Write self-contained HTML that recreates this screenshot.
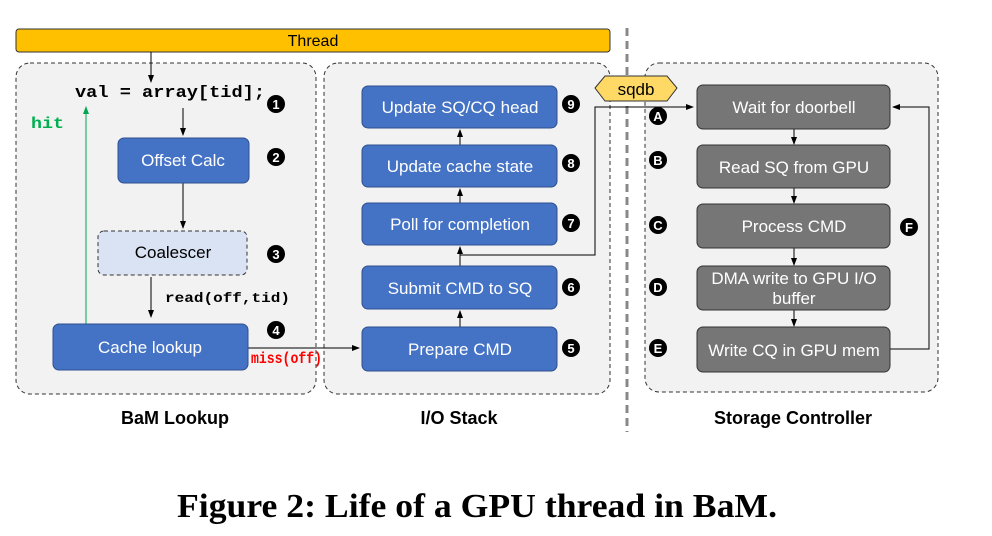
<!DOCTYPE html>
<html><head><style>
body{margin:0;background:#fff;width:992px;height:531px;overflow:hidden}
</style></head><body>
<svg width="992" height="531" xmlns="http://www.w3.org/2000/svg" font-family="Liberation Sans, Arial, sans-serif">
<defs><marker id="a" markerWidth="8" markerHeight="8" refX="7" refY="4" orient="auto" markerUnits="userSpaceOnUse"><path d="M0,1 L8,4 L0,7z" fill="#000"/></marker>
<marker id="g" markerWidth="8" markerHeight="8" refX="7" refY="4" orient="auto" markerUnits="userSpaceOnUse"><path d="M0,1 L8,4 L0,7z" fill="#00a651"/></marker></defs>
<rect x="16" y="29" width="594" height="23" rx="3" fill="#FFC000" stroke="#333"/>
<text x="313" y="46" text-anchor="middle" font-size="16">Thread</text>
<rect x="16" y="63" width="300" height="331" rx="14" fill="#f2f2f2" stroke="#333" stroke-dasharray="4,3"/>
<rect x="324" y="63" width="286" height="331" rx="14" fill="#f2f2f2" stroke="#333" stroke-dasharray="4,3"/>
<rect x="645" y="63" width="293" height="329" rx="14" fill="#f2f2f2" stroke="#333" stroke-dasharray="4,3"/>
<line x1="627" y1="28" x2="627" y2="432" stroke="#888" stroke-width="3" stroke-dasharray="8,5"/>
<g font-family="Liberation Mono, monospace" font-weight="bold">
<text x="75" y="97" font-size="17" textLength="190" lengthAdjust="spacingAndGlyphs">val = array[tid];</text>
<text x="31" y="128" font-size="16" fill="#00b050" textLength="33" lengthAdjust="spacingAndGlyphs">hit</text>
<text x="165" y="302" font-size="14" textLength="125" lengthAdjust="spacingAndGlyphs">read(off,tid)</text>
<text x="251" y="363" font-size="16" fill="#f00" textLength="71" lengthAdjust="spacingAndGlyphs">miss(off)</text>
</g>
<g stroke="#000" fill="none">
<line x1="151" y1="52" x2="151" y2="82" marker-end="url(#a)"/>
<line x1="183" y1="108" x2="183" y2="135" marker-end="url(#a)"/>
<line x1="183" y1="183" x2="183" y2="228" marker-end="url(#a)"/>
<line x1="151" y1="277" x2="151" y2="317" marker-end="url(#a)"/>
<line x1="248" y1="348" x2="359" y2="348" marker-end="url(#a)"/>
<line x1="460" y1="327" x2="460" y2="311" marker-end="url(#a)"/>
<line x1="460" y1="266" x2="460" y2="247" marker-end="url(#a)"/>
<line x1="460" y1="203" x2="460" y2="189" marker-end="url(#a)"/>
<line x1="460" y1="145" x2="460" y2="130" marker-end="url(#a)"/>
<polyline points="460,255 595,255 595,107 693,107" marker-end="url(#a)"/>
<line x1="794" y1="129" x2="794" y2="144" marker-end="url(#a)"/>
<line x1="794" y1="188" x2="794" y2="203" marker-end="url(#a)"/>
<line x1="794" y1="248" x2="794" y2="265" marker-end="url(#a)"/>
<line x1="794" y1="310" x2="794" y2="326" marker-end="url(#a)"/>
<polyline points="890,349 929,349 929,107 893,107" marker-end="url(#a)"/>
</g>
<line x1="86" y1="324" x2="86" y2="107" stroke="#00a651" marker-end="url(#g)"/>
<g stroke="#2f4f8f" fill="#4472C4">
<rect x="118" y="138" width="131" height="45" rx="6"/>
<rect x="53" y="324" width="195" height="46" rx="6"/>
<rect x="362" y="86" width="195" height="42" rx="6"/>
<rect x="362" y="145" width="195" height="42" rx="6"/>
<rect x="362" y="203" width="195" height="42" rx="6"/>
<rect x="362" y="266" width="195" height="43" rx="6"/>
<rect x="362" y="327" width="195" height="44" rx="6"/>
</g>
<rect x="98" y="231" width="149" height="44" rx="6" fill="#dae3f3" stroke="#333" stroke-dasharray="4,3"/>
<g stroke="#333" fill="#767676">
<rect x="697" y="85" width="193" height="44" rx="6"/>
<rect x="697" y="145" width="193" height="43" rx="6"/>
<rect x="697" y="204" width="193" height="44" rx="6"/>
<rect x="697" y="266" width="193" height="44" rx="6"/>
<rect x="697" y="327" width="193" height="45" rx="6"/>
</g>
<polygon points="595,88 605,76 667,76 677,88 667,101 605,101" fill="#FFD966" stroke="#333"/>
<text x="636" y="95" text-anchor="middle" font-size="17">sqdb</text>
<g fill="#fff" font-size="17" text-anchor="middle">
<text x="183" y="166">Offset Calc</text>
<text x="150" y="353">Cache lookup</text>
<text x="460" y="113">Update SQ/CQ head</text>
<text x="460" y="172">Update cache state</text>
<text x="460" y="230">Poll for completion</text>
<text x="460" y="294">Submit CMD to SQ</text>
<text x="460" y="355">Prepare CMD</text>
<text x="794" y="113">Wait for doorbell</text>
<text x="794" y="173">Read SQ from GPU</text>
<text x="794" y="232">Process CMD</text>
<text x="794" y="284">DMA write to GPU I/O</text>
<text x="794" y="304">buffer</text>
<text x="794" y="356">Write CQ in GPU mem</text>
</g>
<text x="173" y="258" text-anchor="middle" font-size="17">Coalescer</text>
<g font-size="13" font-weight="bold" text-anchor="middle">
<circle cx="276" cy="104" r="9"/><text x="276" y="109" fill="#fff">1</text>
<circle cx="276" cy="157" r="9"/><text x="276" y="162" fill="#fff">2</text>
<circle cx="276" cy="254" r="9"/><text x="276" y="259" fill="#fff">3</text>
<circle cx="276" cy="330" r="9"/><text x="276" y="335" fill="#fff">4</text>
<circle cx="571" cy="104" r="9"/><text x="571" y="109" fill="#fff">9</text>
<circle cx="571" cy="163" r="9"/><text x="571" y="168" fill="#fff">8</text>
<circle cx="571" cy="223" r="9"/><text x="571" y="228" fill="#fff">7</text>
<circle cx="571" cy="287" r="9"/><text x="571" y="292" fill="#fff">6</text>
<circle cx="571" cy="348" r="9"/><text x="571" y="353" fill="#fff">5</text>
<circle cx="658" cy="116" r="9"/><text x="658" y="121" fill="#fff">A</text>
<circle cx="658" cy="160" r="9"/><text x="658" y="165" fill="#fff">B</text>
<circle cx="658" cy="225" r="9"/><text x="658" y="230" fill="#fff">C</text>
<circle cx="658" cy="287" r="9"/><text x="658" y="292" fill="#fff">D</text>
<circle cx="658" cy="348" r="9"/><text x="658" y="353" fill="#fff">E</text>
<circle cx="909" cy="227" r="9"/><text x="909" y="232" fill="#fff">F</text>
</g>
<g font-size="18" font-weight="bold" text-anchor="middle">
<text x="175" y="424">BaM Lookup</text>
<text x="459" y="424">I/O Stack</text>
<text x="793" y="424">Storage Controller</text>
</g>
<text x="477" y="517" text-anchor="middle" font-family="Liberation Serif, serif" font-weight="bold" font-size="34" textLength="600" lengthAdjust="spacingAndGlyphs">Figure 2: Life of a GPU thread in BaM.</text>
</svg>
</body></html>
